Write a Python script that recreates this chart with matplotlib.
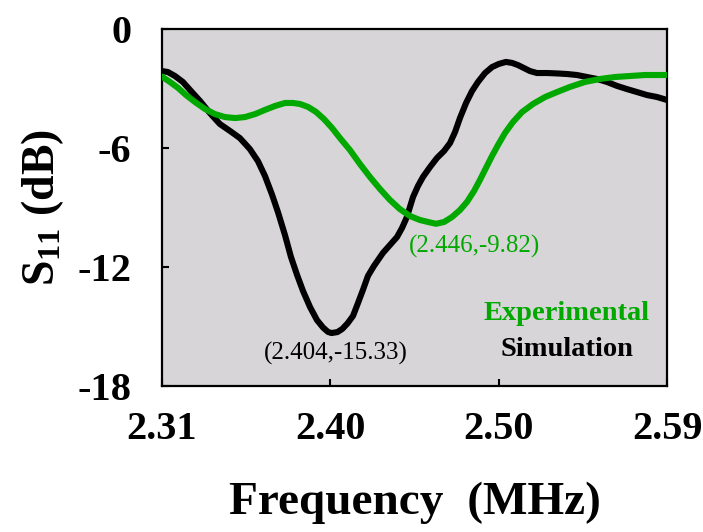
import numpy as np
import matplotlib
matplotlib.use("Agg")
import matplotlib.pyplot as plt

# ---- data ----
sim_freq = [2.3100, 2.3133, 2.3172, 2.3216, 2.3266, 2.3311, 2.3366, 2.3421, 2.3477, 2.3532,
            2.3587, 2.3632, 2.3671, 2.3709, 2.3743, 2.3782, 2.3815, 2.3849, 2.3882, 2.3921,
            2.3959, 2.3993, 2.4020, 2.4040, 2.4073, 2.4100, 2.4128, 2.4159, 2.4187, 2.4214,
            2.4242, 2.4275, 2.4325, 2.4364, 2.4403, 2.4431, 2.4458, 2.4475, 2.4492, 2.4519,
            2.4547, 2.4586, 2.4625, 2.4664, 2.4697, 2.4725, 2.4752, 2.4786, 2.4819, 2.4852,
            2.4891, 2.4930, 2.4968, 2.5007, 2.5041, 2.5074, 2.5107, 2.5140, 2.5179, 2.5235,
            2.5290, 2.5346, 2.5401, 2.5456, 2.5512, 2.5567, 2.5623, 2.5678, 2.5734, 2.5789,
            2.5845, 2.5900]
sim_s11 = [-2.12, -2.17, -2.37, -2.67, -3.18, -3.63, -4.24, -4.79, -5.14, -5.50,
           -6.05, -6.66, -7.41, -8.32, -9.23, -10.39, -11.49, -12.40, -13.21, -14.02,
           -14.67, -15.05, -15.27, -15.33, -15.28, -15.12, -14.85, -14.47, -13.81, -13.16,
           -12.45, -11.95, -11.29, -10.89, -10.49, -10.03, -9.48, -8.97, -8.47, -7.92,
           -7.46, -6.96, -6.50, -6.15, -5.75, -5.19, -4.49, -3.73, -3.13, -2.67,
           -2.22, -1.92, -1.76, -1.66, -1.71, -1.82, -1.97, -2.12, -2.22, -2.22,
           -2.24, -2.27, -2.32, -2.42, -2.52, -2.67, -2.87, -3.03, -3.18, -3.33,
           -3.43, -3.58]

exp_freq = [2.3100, 2.3144, 2.3189, 2.3233, 2.3283, 2.3338, 2.3394, 2.3449, 2.3505, 2.3560,
            2.3616, 2.3671, 2.3727, 2.3782, 2.3826, 2.3865, 2.3910, 2.3954, 2.3998, 2.4043,
            2.4087, 2.4142, 2.4198, 2.4253, 2.4309, 2.4364, 2.4419, 2.4475, 2.4530, 2.4575,
            2.4619, 2.4664, 2.4708, 2.4752, 2.4791, 2.4830, 2.4863, 2.4896, 2.4930, 2.4963,
            2.5002, 2.5046, 2.5096, 2.5157, 2.5224, 2.5290, 2.5362, 2.5445, 2.5528, 2.5612,
            2.5695, 2.5778, 2.5900]
exp_s11 = [-2.40, -2.67, -2.97, -3.33, -3.68, -4.03, -4.29, -4.44, -4.49, -4.44,
           -4.29, -4.08, -3.88, -3.73, -3.73, -3.78, -3.93, -4.18, -4.54, -4.99,
           -5.50, -6.10, -6.81, -7.46, -8.07, -8.62, -9.08, -9.43, -9.63, -9.73,
           -9.82, -9.73, -9.48, -9.13, -8.72, -8.17, -7.61, -7.01, -6.40, -5.85,
           -5.24, -4.69, -4.19, -3.78, -3.43, -3.18, -2.92, -2.67, -2.52, -2.42,
           -2.37, -2.32, -2.32]

sim_note = (2.404, -15.33)
exp_note = (2.446, -9.82)
x_range = (2.31, 2.59)
y_ticks = [0, -6, -12, -18]
series_names = ["Experimental", "Simulation"]

# ---- style ----
plt.rcParams['font.family'] = ['Liberation Serif', 'DejaVu Serif']
plt.rcParams['font.weight'] = 'bold'
plt.rcParams['mathtext.fontset'] = 'custom'
plt.rcParams['mathtext.rm'] = 'Liberation Serif:bold'
plt.rcParams['mathtext.bf'] = 'Liberation Serif:bold'
plt.rcParams['mathtext.default'] = 'rm'

green = '#00A800'
fig = plt.figure(figsize=(7.03, 5.32), dpi=100)
ax = fig.add_axes([0.2304, 0.2744, 0.7184, 0.6711])
ax.set_facecolor('#D7D5D7')

ax.plot(sim_freq, sim_s11, color='black', lw=4.4, solid_capstyle='round',
        solid_joinstyle='round', zorder=3)
ax.plot(exp_freq, exp_s11, color=green, lw=4.4, solid_capstyle='round',
        solid_joinstyle='round', zorder=4)

ax.set_xlim(*x_range)
ax.set_ylim(-18, 0)
xt = np.linspace(x_range[0], x_range[1], 4)
ax.set_xticks(xt)
ax.set_xticklabels([f"{v:.2f}" for v in xt])
ax.set_yticks(y_ticks)
ax.set_yticklabels([str(v) for v in y_ticks])

ax.tick_params(axis='both', direction='in', length=5, width=1.5,
               labelsize=29, top=False, right=False)
ax.tick_params(axis='y', pad=22)
ax.tick_params(axis='x', pad=18)
for lab in ax.get_xticklabels() + ax.get_yticklabels():
    lab.set_fontweight('bold')
for s in ax.spines.values():
    s.set_linewidth(1.6)

ax.set_xlabel("Frequency  (MHz)", fontsize=34, fontweight='bold', labelpad=24)
ax.set_ylabel(r"S$_{11}$ (dB)", fontsize=33, fontweight='bold', labelpad=8)

# annotations at the minima
i_s = int(np.argmin(sim_s11))
ax.annotate(f"({sim_note[0]:.3f},{sim_note[1]:.2f})", xy=(sim_freq[i_s], sim_s11[i_s]),
            xytext=(3, -14.5), textcoords='offset points', ha='center', va='center',
            fontsize=18, fontweight='normal', color='black')
i_e = int(np.argmin(exp_s11))
ax.annotate(f"({exp_note[0]:.3f},{exp_note[1]:.2f})", xy=(exp_freq[i_e], exp_s11[i_e]),
            xytext=(28, -16.5), textcoords='offset points', ha='center', va='center',
            fontsize=18, fontweight='normal', color=green)

ax.text(0.802, 0.2045, series_names[0], transform=ax.transAxes, ha='center', va='center',
        fontsize=20.5, fontweight='bold', color=green)
ax.text(0.802, 0.101, series_names[1], transform=ax.transAxes, ha='center', va='center',
        fontsize=20.5, fontweight='bold', color='black')

fig.savefig("out.png", dpi=100)
